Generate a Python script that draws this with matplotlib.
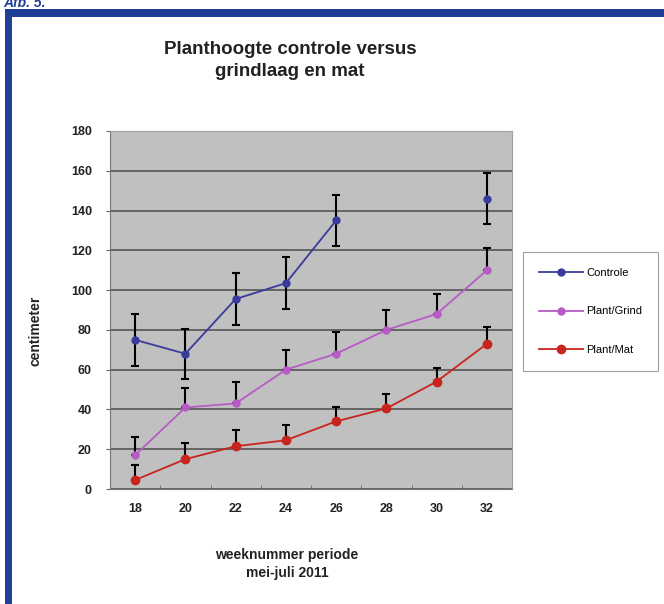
import numpy as np
import matplotlib
matplotlib.use("Agg")
from matplotlib import pyplot as plt
from matplotlib.patches import Rectangle

plt.rcParams['font.family'] = ['Liberation Sans', 'DejaVu Sans']

weeks = ['18', '20', '22', '24', '26', '28', '30', '32']

controle = [75, 68, 95.5, 103.5, 135, np.nan, np.nan, 146]
controle_err = [13, 12.5, 13, 13, 13, np.nan, np.nan, 13]

grind = [17, 41, 43, 60, 68, 80, 88, 110]
grind_err = [9, 10, 11, 10, 11, 10, 10, 11]

mat = [4.5, 15, 21.5, 24.5, 34, 40.5, 54, 73]
mat_err = [7.5, 8, 8, 7.5, 7, 7.5, 7, 8.5]

fig = plt.figure(figsize=(6.64, 6.04), dpi=100)

# blue frame of the page
fig.patches.append(Rectangle((5 / 664, 0), 7 / 664, 1 - 9 / 604, transform=fig.transFigure,
                             facecolor='#1f3f96', edgecolor='none'))
fig.patches.append(Rectangle((5 / 664, 1 - 17 / 604), 1, 8 / 604, transform=fig.transFigure,
                             facecolor='#1f3f96', edgecolor='none'))
fig.text(0.005, 1 - 3 / 604, 'Afb. 5.', color='#1f3f96', fontsize=10, fontweight='bold',
         style='italic', va='center', ha='left')

ax = fig.add_axes([110 / 664, 1 - 489 / 604, 402 / 664, 358 / 604])
ax.set_facecolor('#c0c0c0')
x = np.arange(len(weeks))

ax.errorbar(x, controle, yerr=controle_err, color='#3a3a9c', marker='o', ms=5, lw=1.3,
            ecolor='black', elinewidth=1.5, capsize=3, capthick=1.5, label='Controle', zorder=3)
ax.errorbar(x, grind, yerr=[np.zeros(len(grind)), grind_err], color='#b65cc4', marker='o', ms=5,
            lw=1.3, ecolor='black', elinewidth=1.5, capsize=3, capthick=1.5,
            label='Plant/Grind', zorder=3)
ax.errorbar(x, mat, yerr=[np.zeros(len(mat)), mat_err], color='#c8241e', marker='o', ms=6,
            lw=1.3, ecolor='black', elinewidth=1.5, capsize=3, capthick=1.5,
            label='Plant/Mat', zorder=3)

ax.set_xlim(-0.5, 7.5)
ax.set_ylim(0, 180)
ax.set_yticks(np.arange(0, 181, 20))
ax.set_xticks(x)
ax.set_xticklabels(weeks)
ax.set_xticks(np.arange(0.5, 7, 1), minor=True)
ax.tick_params(axis='x', which='major', length=0, pad=10, labelsize=9)
ax.tick_params(axis='x', which='minor', direction='in', length=3, color='#666666')
ax.tick_params(axis='y', length=3, pad=10, labelsize=9, color='#666666')
for lab in ax.get_xticklabels() + ax.get_yticklabels():
    lab.set_fontweight('bold')
    lab.set_color('#222222')
ax.yaxis.grid(True, color='#555555', lw=1.2)
ax.set_axisbelow(True)
for s in ['top', 'right']:
    ax.spines[s].set_color('#a0a0a0')
for s in ['left', 'bottom']:
    ax.spines[s].set_color('#777777')

fig.text(290 / 664, 1 - 50 / 604, 'Planthoogte controle versus', ha='center', va='center',
         fontsize=13.5, fontweight='bold', color='#222222')
fig.text(290 / 664, 1 - 71 / 604, 'grindlaag en mat', ha='center', va='center',
         fontsize=13.5, fontweight='bold', color='#222222')
fig.text(35 / 664, 1 - 331 / 604, 'centimeter', rotation=90, ha='center', va='center',
         fontsize=10, fontweight='bold', color='#222222')
fig.text(287 / 664, 1 - 555 / 604, 'weeknummer periode', ha='center', va='center',
         fontsize=10, fontweight='bold', color='#222222')
fig.text(287 / 664, 1 - 573 / 604, 'mei-juli 2011', ha='center', va='center',
         fontsize=10, fontweight='bold', color='#222222')

h, l = ax.get_legend_handles_labels()
h = [hh[0] for hh in h]
leg = fig.legend(h, l, loc='upper left', bbox_to_anchor=(523 / 664, 1 - 252 / 604),
                 frameon=True, fancybox=False, edgecolor='#888888', fontsize=8,
                 labelspacing=2.6, handlelength=4.0, borderpad=1.4, handletextpad=0.3,
                 borderaxespad=0)
leg.get_frame().set_linewidth(0.8)

fig.savefig('out.png', dpi=100)
